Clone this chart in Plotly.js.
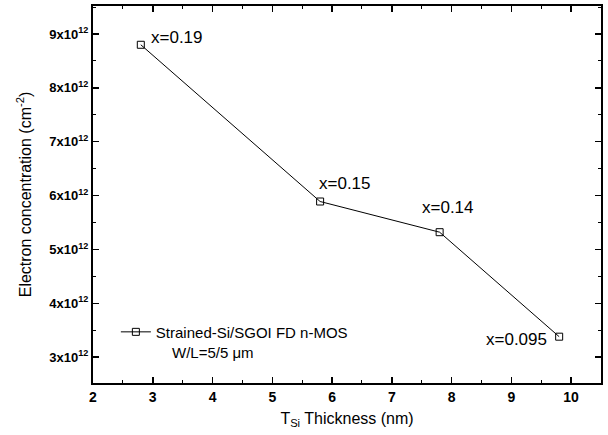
<!DOCTYPE html>
<html>
<head>
<meta charset="utf-8">
<script src="https://cdn.plot.ly/plotly-3.0.1.min.js"></script>
<style>html,body{margin:0;padding:0;background:#fff;}#chart{width:608px;height:435px;}</style>
</head>
<body>
<div id="chart"></div>
<script>
const thickness = [2.8, 5.8, 7.8, 9.8];
const electronConc = [8.8e12, 5.89e12, 5.32e12, 3.38e12];
const geLabels = ["x=0.19", "x=0.15", "x=0.14", "x=0.095"];
const yTickVals = [3e12, 4e12, 5e12, 6e12, 7e12, 8e12, 9e12];
const yTickText = ["3x10<sup>12</sup>", "4x10<sup>12</sup>", "5x10<sup>12</sup>", "6x10<sup>12</sup>", "7x10<sup>12</sup>", "8x10<sup>12</sup>", "9x10<sup>12</sup>"];
const xTickVals = [2, 3, 4, 5, 6, 7, 8, 9, 10];
const labelOffsets = [[36, -7], [25, -18], [8, -25], [-43, 3]];

const font = "Liberation Sans, Arial, sans-serif";

const trace = {
  x: thickness, y: electronConc,
  mode: "lines+markers",
  name: "Strained-Si/SGOI FD n-MOS",
  line: {color: "#000", width: 1},
  marker: {symbol: "square-open", size: 7, color: "#000", line: {width: 1, color: "#000"}},
  showlegend: true
};

const annotations = thickness.map((t, i) => ({
  x: t, y: electronConc[i], xref: "x", yref: "y",
  text: geLabels[i], showarrow: false,
  xshift: labelOffsets[i][0], yshift: -labelOffsets[i][1],
  font: {family: font, size: 17, color: "#000"}
}));
annotations.push({
  xref: "paper", yref: "paper", x: 0.152, y: 0.082, xanchor: "left", yanchor: "middle",
  text: "W/L=5/5 μm", showarrow: false,
  font: {family: font, size: 15, color: "#000"}
});

const axisCommon = {
  showline: true, linecolor: "#000", linewidth: 2, mirror: "allticks",
  ticks: "inside", ticklen: 6, tickwidth: 1.5, tickcolor: "#000",
  showgrid: false, zeroline: false
};

const layout = {
  width: 608, height: 435,
  margin: {l: 93, r: 7, t: 6, b: 52},
  paper_bgcolor: "#fff", plot_bgcolor: "#fff",
  font: {family: font, color: "#000"},
  xaxis: Object.assign({}, axisCommon, {
    range: [2, 10.5],
    tickvals: xTickVals,
    tickfont: {family: font, size: 14, weight: "bold", color: "#000"},
    minor: {ticks: "inside", ticklen: 3, tickwidth: 1, tickcolor: "#000", tickvals: [2.5,3.5,4.5,5.5,6.5,7.5,8.5,9.5,10.5]},
    title: {text: "T<sub>Si</sub> Thickness (nm)", font: {family: font, size: 16, color: "#000"}, standoff: 9}
  }),
  yaxis: Object.assign({}, axisCommon, {
    range: [2.52e12, 9.52e12],
    tickvals: yTickVals, ticktext: yTickText,
    tickfont: {family: font, size: 13, weight: "bold", color: "#000"},
    minor: {ticks: "inside", ticklen: 3, tickwidth: 1, tickcolor: "#000", tickvals: [3.5e12,4.5e12,5.5e12,6.5e12,7.5e12,8.5e12,9.5e12]},
    title: {text: "Electron concentration (cm<sup>-2</sup>)", font: {family: font, size: 16, color: "#000"}, standoff: 14}
  }),
  legend: {
    x: 0.045, y: 0.135, xanchor: "left", yanchor: "middle",
    bgcolor: "rgba(0,0,0,0)", borderwidth: 0,
    font: {family: font, size: 15, color: "#000"}
  },
  annotations: annotations
};

Plotly.newPlot("chart", [trace], layout, {staticPlot: true, displayModeBar: false});
</script>
</body>
</html>
